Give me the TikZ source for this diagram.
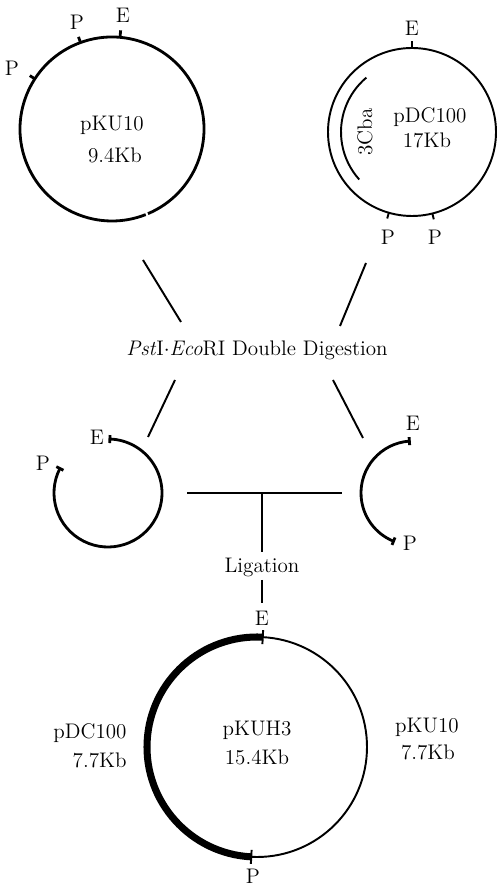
\documentclass[tikz,border=0pt]{standalone}
\usetikzlibrary{positioning}
\begin{document}
\begin{tikzpicture}[x=0.02cm,y=0.02cm,font=\fontsize{12}{14}\selectfont,
  lbl/.style={inner sep=0pt},
  ring/.style={line width=1.6pt},
  thinring/.style={line width=1.1pt},
  conn/.style={line width=1.1pt}]
  \useasboundingbox (0,0) rectangle (500,886);
  % pKU10
  \coordinate (ku) at (112,757);
  \draw[ring] (ku) ++(-67:92) arc[start angle=-67,end angle=291.5,radius=92];
  \draw[ring] (ku) ++(85:92) -- ++(85:7);
  \draw[ring] (ku) ++(110:92) -- ++(110:6);
  \draw[ring] (ku) ++(147:92) -- ++(147:6);
  \node[lbl] (kuE) at (123,871) {E};
  \node[lbl] (kuP1) at (77,864) {P};
  \node[lbl] (kuP2) at (12,818) {P};
  \node[lbl] (kuname) at (112,761) {pKU10};
  \node[lbl] (kusize) at (115,731) {9.4Kb};
  % pDC100
  \coordinate (dc) at (412,754);
  \draw[thinring] (dc) circle[radius=84];
  \draw[thinring] (dc) ++(130:71) arc[start angle=130,end angle=222,radius=71];
  \draw[thinring] (dc) ++(90:84) -- ++(90:7);
  \draw[thinring] (dc) ++(254:84) -- ++(254:6);
  \draw[thinring] (dc) ++(284:84) -- ++(284:6);
  \node[lbl] (dcE) at (412,858) {E};
  \node[lbl] (dcP1) at (388,649) {P};
  \node[lbl] (dcP2) at (435,649) {P};
  \node[lbl,rotate=90] (cba) at (365,754) {3Cba};
  \node[lbl] (dcname) at (430,769) {pDC100};
  \node[lbl] (dcsize) at (427,746) {17Kb};
  % digestion
  \node[lbl] (dig) at (257,536) {\textit{Pst}I$\cdot$\textit{Eco}RI Double Digestion};
  \coordinate (a1) at (143,626); \coordinate (a2) at (181,564);
  \coordinate (b1) at (366,623); \coordinate (b2) at (340,560);
  \coordinate (c1) at (175,506); \coordinate (c2) at (148,449);
  \coordinate (d1) at (333,506); \coordinate (d2) at (363,448);
  \draw[conn] (a1) -- (a2);
  \draw[conn] (b1) -- (b2);
  \draw[conn] (c1) -- (c2);
  \draw[conn] (d1) -- (d2);
  % fragments
  \coordinate (fl) at (108,393);
  \draw[ring] (fl) ++(-207:54) arc[start angle=-207,end angle=88,radius=54];
  \draw[ring] (fl) ++(88:50) -- ++(88:8);
  \draw[ring] (fl) ++(153:50) -- ++(153:8);
  \node[lbl] (flE) at (97,449) {E};
  \node[lbl] (flP) at (43,423) {P};
  \coordinate (fr) at (413,393);
  \draw[ring] (fr) ++(94:52) arc[start angle=94,end angle=248,radius=52];
  \draw[ring] (fr) ++(94:48) -- ++(94:8);
  \draw[ring] (fr) ++(248:48) -- ++(248:8);
  \node[lbl] (frE) at (413,463) {E};
  \node[lbl] (frP) at (410,343) {P};
  % ligation
  \coordinate (tl) at (187,393); \coordinate (tr) at (342,393);
  \coordinate (tm) at (262,393); \coordinate (tb) at (262,334);
  \draw[conn] (tl) -- (tr);
  \draw[conn] (tm) -- (tb);
  \node[lbl] (lig) at (262,319) {Ligation};
  \coordinate (g1) at (262,306); \coordinate (g2) at (262,283);
  \draw[conn] (g1) -- (g2);
  % pKUH3
  \coordinate (kh) at (257,139);
  \draw[thinring] (kh) circle[radius=110];
  \draw[line width=4pt] (kh) ++(87:110) arc[start angle=87,end angle=267,radius=110];
  \draw[thinring] (kh) ++(87:103) -- ++(87:14);
  \draw[thinring] (kh) ++(267:103) -- ++(267:14);
  \node[lbl] (khE) at (262,268) {E};
  \node[lbl] (khP) at (253,10) {P};
  \node[lbl] (khname) at (257,156) {pKUH3};
  \node[lbl] (khsize) at (257,129) {15.4Kb};
  \node[lbl] (ldcname) at (90,153) {pDC100};
  \node[lbl,anchor=east] (ldcsize) at (127,126) {7.7Kb};
  \node[lbl] (rkuname) at (427,159) {pKU10};
  \node[lbl] (rkusize) at (428,134) {7.7Kb};
\end{tikzpicture}
\end{document}
